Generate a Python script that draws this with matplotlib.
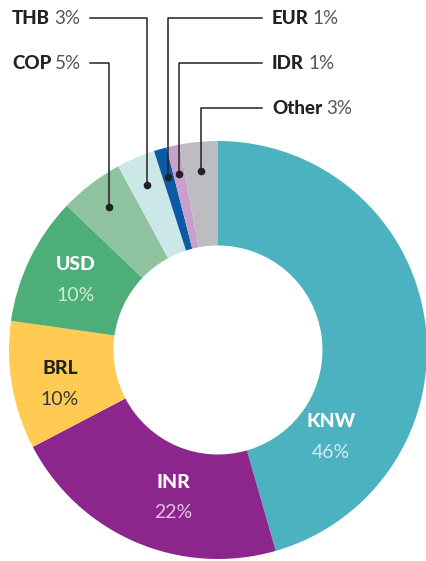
import numpy as np
import matplotlib.pyplot as plt

plt.rcParams['font.family'] = ['Lato', 'DejaVu Sans']

# data, clockwise from 12 o'clock
codes = ['KNW', 'INR', 'BRL', 'USD', 'COP', 'THB', 'EUR', 'IDR', 'Other']
shares = [46, 22, 10, 10, 5, 3, 1, 1, 3]
colors = ['#4db2bf', '#8c268c', '#ffcb52', '#4dae78', '#8fc29f',
          '#cbe7e7', '#0b5aa6', '#c7a0cb', '#bdbdc1']

# labels drawn inside the ring (name colour, percent colour, position)
inside = {'KNW': ('white', '#cdecef', 331, 421),
          'INR': ('white', '#e0c3e0', 173, 482),
          'BRL': ('#222222', '#3a3a3a', 60, 368),
          'USD': ('white', '#cdeBd7', 76, 264)}
# labels outside with leader lines: (text y, text side)
outside = {'THB': (18, 'left'), 'COP': (63, 'left'),
           'EUR': (18, 'right'), 'IDR': (63, 'right'), 'Other': (108, 'right')}

cx, cy, R = 218, 350, 209

fig = plt.figure(figsize=(4.27, 5.61), dpi=100)
ax = fig.add_axes([0, 0, 1, 1])
wedges, _ = ax.pie(shares, colors=colors, startangle=-90, counterclock=True,
                   center=(cx, cy), radius=R,
                   wedgeprops=dict(width=R * 0.5, linewidth=0))
ax.set_xlim(0, 427)
ax.set_ylim(561, 0)
ax.set_aspect('equal')
ax.axis('off')

for code, share, w in zip(codes, shares, wedges):
    if code in inside:
        c1, c2, x, y = inside[code]
        ax.text(x, y, code, color=c1, fontsize=14, fontweight='black', ha='center', va='center')
        ax.text(x, y + 31, f'{share}%', color=c2, fontsize=14, fontweight='normal', ha='center', va='center')
    else:
        ty, side = outside[code]
        mid = np.deg2rad((w.theta1 + w.theta2) / 2)
        dx = cx + 180 * np.cos(mid)
        dy = cy + 180 * np.sin(mid)
        if side == 'left':
            lx, tx = 90, 12
        else:
            lx, tx = 262, 272
        ax.plot([dx, dx, lx], [dy, ty, ty], color='#222222', lw=1.1)
        ax.plot(dx, dy, 'o', color='#222222', ms=4.5)
        t = ax.text(tx, ty, code, color='#222222', fontsize=13.5, fontweight='black', ha='left', va='center')
        fig.canvas.draw()
        bb = t.get_window_extent().transformed(ax.transData.inverted())
        ax.text(bb.x1 + 4, ty, f'{share}%', color='#555555', fontsize=13.5, fontweight='normal',
                ha='left', va='center')

fig.savefig('out.png', dpi=100)
